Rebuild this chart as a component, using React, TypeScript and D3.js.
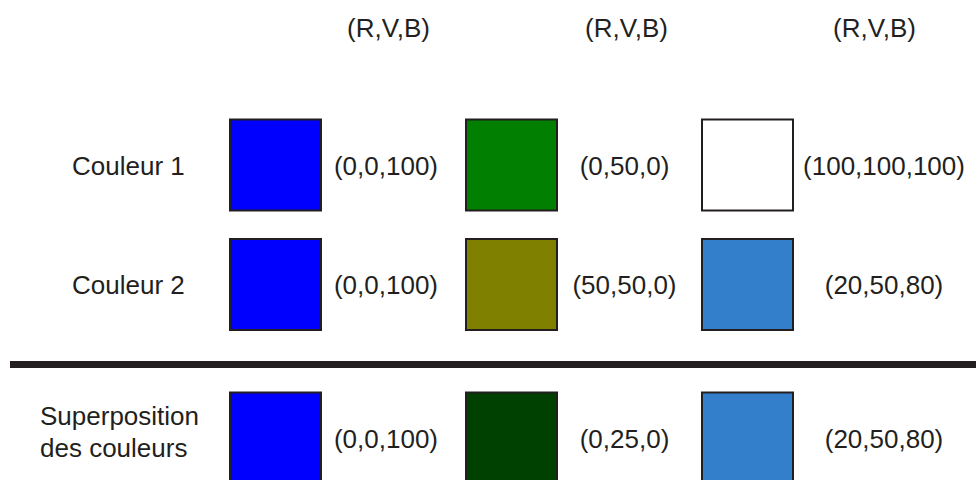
import React from "react";
import * as d3 from "d3";

const columns = ["c1", "c2", "c3"];
const rowLabels: string[][] = [["Couleur 1"], ["Couleur 2"], ["Superposition", "des couleurs"]];
const headerLabel = "(R,V,B)";
const couleur1: [number, number, number][] = [[0, 0, 100], [0, 50, 0], [100, 100, 100]];
const couleur2: [number, number, number][] = [[0, 0, 100], [50, 50, 0], [20, 50, 80]];
const superposition: [number, number, number][] = [[0, 0, 100], [0, 25, 0], [20, 50, 80]];
const rows = [couleur1, couleur2, superposition];

const W = 976;
const H = 480;
const INK = "#231f20";
const FONT = "'Liberation Sans', Arial, sans-serif";

export default function App() {
  const xSq = d3.scalePoint<string>().domain(columns).range([275.5, 747.5]);
  const xHead = d3.scaleOrdinal<string, number>().domain(columns).range([388.5, 626.5, 874.5]);
  const xVal = d3.scaleOrdinal<string, number>().domain(columns).range([386, 624.5, 884]);
  const yRow = d3.scaleOrdinal<number, number>().domain([0, 1, 2]).range([165, 284.5, 438]);
  const size = 91;
  const toFill = (c: [number, number, number]) =>
    d3.rgb(Math.round(c[0] * 2.55), Math.round(c[1] * 2.55), Math.round(c[2] * 2.55)).formatHex();
  const fmt = (c: [number, number, number]) => `(${c.join(",")})`;

  return (
    <svg
      width={W}
      height={H}
      style={{ position: "absolute", left: 0, top: 0, background: "#fff" }}
      fontFamily={FONT}
    >
      <rect x={0} y={0} width={W} height={H} fill="#fff" />
      {columns.map((c) => (
        <text key={"h" + c} x={xHead(c)} y={37} fontSize={26} textAnchor="middle" fill={INK}>
          {headerLabel}
        </text>
      ))}
      <line x1={10} x2={W} y1={364.5} y2={364.5} stroke={INK} strokeWidth={7} />
      {rows.map((row, ri) => {
        const cy = yRow(ri);
        const lbl = rowLabels[ri];
        return (
          <g key={"r" + ri}>
            {lbl.length === 1 ? (
              <text x={72} y={cy + 9.5} fontSize={26} fill={INK}>
                {lbl[0]}
              </text>
            ) : (
              lbl.map((t, li) => (
                <text key={li} x={40} y={cy - 13 + li * 32} fontSize={26} fill={INK}>
                  {t}
                </text>
              ))
            )}
            {row.map((c, ci) => {
              const col = columns[ci];
              const cx = xSq(col) as number;
              return (
                <g key={ci}>
                  <rect
                    x={cx - size / 2}
                    y={cy - size / 2}
                    width={size}
                    height={size}
                    fill={toFill(c)}
                    stroke={INK}
                    strokeWidth={2}
                  />
                  <text x={xVal(col)} y={cy + 9.5} fontSize={26} textAnchor="middle" fill={INK}>
                    {fmt(c)}
                  </text>
                </g>
              );
            })}
          </g>
        );
      })}
    </svg>
  );
}
